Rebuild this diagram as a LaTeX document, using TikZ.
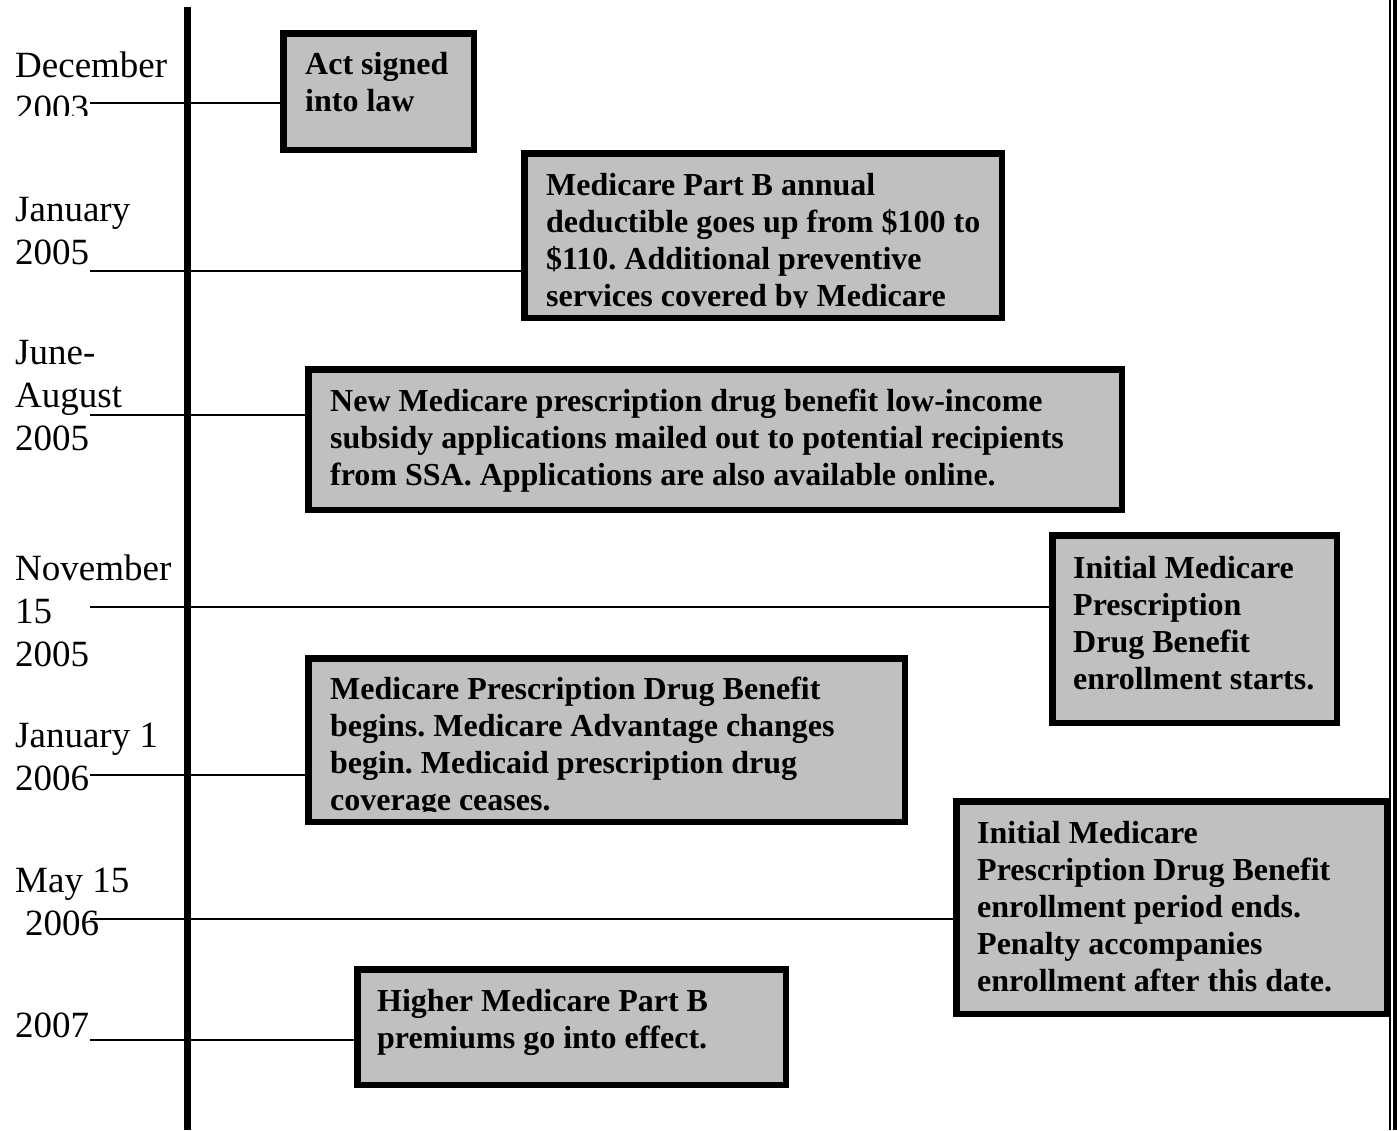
\documentclass[tikz,border=0pt]{standalone}
\usepackage{fontspec}
\setmainfont{Liberation Serif}
\usetikzlibrary{positioning}
\definecolor{boxGray}{RGB}{192, 192, 192}
\frenchspacing

\tikzset{
    datelabel/.style={anchor=base west, align=left, inner sep=0pt,
        font=\fontsize{37}{43}\selectfont},
    eventbox/.style={draw, line width=6.5pt, fill=boxGray, inner sep=0pt,
        outer sep=0pt, anchor=north west},
    eventtext/.style={anchor=base west, align=left, inner sep=0pt,
        font=\fontsize{32}{37}\selectfont\bfseries},
    link/.style={line width=1.8pt},
    axisline/.style={line width=7pt}
}

\begin{document}
\begin{tikzpicture}[x=1pt,y=-1pt]
            \useasboundingbox (0,0) rectangle (1397,1130);

            % dates (placed by the baseline of their last line)
            \begin{scope}
                \clip (0,0) rectangle (180,115);
                \node[datelabel] (dec03) at (15,120) {December\\2003};
            \end{scope}
            \node[datelabel] (jan05) at (15,264) {January\\2005};
            \node[datelabel] (jun05) at (15,450) {June-\\August\\2005};
            \node[datelabel] (nov05) at (15,666) {November\\15\\2005};
            \node[datelabel] (jan06) at (15,790) {January 1\\2006};
            \node[datelabel] (may06) at (15,935) {May 15\\\hspace*{10pt}2006};
            \node[datelabel] (yr07) at (15,1037) {2007};

            % boxes
            \node[eventbox, minimum width=190.5, minimum height=116.5] (law) at (283.25,33.25) {};
            \node[eventbox, minimum width=477.5, minimum height=164.5] (deduct) at (524.25,153.25) {};
            \node[eventbox, minimum width=813.5, minimum height=140.5] (subsidy) at (308.25,369.25) {};
            \node[eventbox, minimum width=284.5, minimum height=187.5] (enrol) at (1052.25,535.25) {};
            \node[eventbox, minimum width=596.5, minimum height=163.5] (begins) at (308.25,658.25) {};
            \node[eventbox, minimum width=430.5, minimum height=212.5] (ends) at (956.25,801.25) {};
            \node[eventbox, minimum width=428.5, minimum height=115.5] (premium) at (357.25,969.25) {};

            % connectors
            \coordinate (c1) at (90,103);
            \coordinate (c2) at (90,271);
            \coordinate (c3) at (90,415);
            \coordinate (c4) at (90,607);
            \coordinate (c5) at (90,775);
            \coordinate (c6) at (90,919);
            \coordinate (c7) at (90,1040);
            \draw[link] (c1) -- (c1 -| law.west);
            \draw[link] (c2) -- (c2 -| deduct.west);
            \draw[link] (c3) -- (c3 -| subsidy.west);
            \draw[link] (c4) -- (c4 -| enrol.west);
            \draw[link] (c5) -- (c5 -| begins.west);
            \draw[link] (c6) -- (c6 -| ends.west);
            \draw[link] (c7) -- (c7 -| premium.west);

            % time axis and page edge
            \coordinate (axtop) at (187,7);
            \coordinate (axbot) at (187,1130);
            \draw[axisline] (axtop) -- (axbot);
            \draw[line width=2pt] (1390,0) -- (1390,1130);
            \draw[line width=3.5pt] (1395,0) -- (1395,1130);

            % texts (placed by the baseline of their last line)
            \node[eventtext] (lawtxt) at (305,111) {Act signed\\into law};
            \begin{scope}
                \clip (521,150) rectangle (1005,307);
                \node[eventtext] (deducttxt) at (546,306)
                    {Medicare Part B annual\\deductible goes up from \$100 to\\\$110. Additional preventive\\services covered by Medicare};
            \end{scope}
            \node[eventtext] (subsidytxt) at (330,485)
                {New Medicare prescription drug benefit low-income\\subsidy applications mailed out to potential recipients\\from SSA. Applications are also available online.};
            \node[eventtext] (enroltxt) at (1073,689)
                {Initial Medicare\\Prescription\\Drug Benefit\\enrollment starts.};
            \begin{scope}
                \clip (305,655) rectangle (908,811);
                \node[eventtext] (beginstxt) at (330,810)
                    {Medicare Prescription Drug Benefit\\begins. Medicare Advantage changes\\begin. Medicaid prescription drug\\coverage ceases.};
            \end{scope}
            \node[eventtext] (endstxt) at (977,991)
                {Initial Medicare\\Prescription Drug Benefit\\enrollment period ends.\\Penalty accompanies\\enrollment after this date.};
            \node[eventtext] (premiumtxt) at (377,1048)
                {Higher Medicare Part B\\premiums go into effect.};
        \end{tikzpicture}
\end{document}
